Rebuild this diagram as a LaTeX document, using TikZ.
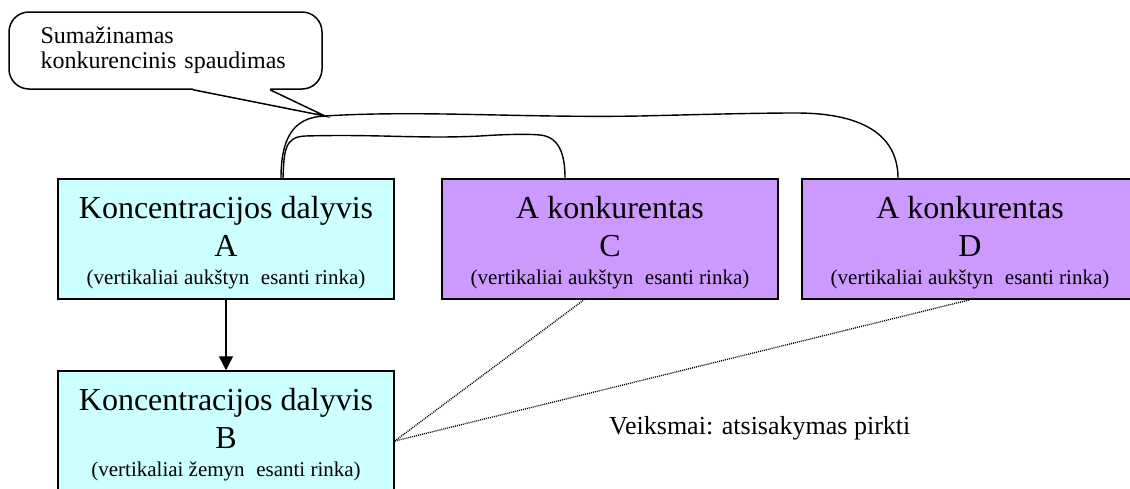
\documentclass[tikz,border=0pt]{standalone}
\usepackage{fontspec}
\setmainfont{Liberation Serif}
\usetikzlibrary{arrows.meta}
\definecolor{dalyviscyan}{HTML}{CCFFFF}
\definecolor{konkurviolet}{HTML}{CC99FF}
\newcommand\rinkafont{\fontsize{21}{24}\selectfont}
\newcommand\boxstrut{\rule{0pt}{29pt}}

\begin{document}
\begin{tikzpicture}[x=1pt, y=-1pt, >={Triangle[length=14pt,width=14pt]},
  box/.style={draw, line width=1.5pt, minimum width=336pt, minimum height=120pt,
    inner sep=0pt, align=center, font=\fontsize{32}{38}\selectfont},
  link/.style={line width=1.4pt},
  dotlink/.style={line width=1.3pt, dash pattern=on 1pt off 1pt}]
  \useasboundingbox (0,0) rectangle (1130,488);
  % callout
  \node[draw, line width=1.5pt, rounded corners=20pt, fill=white, minimum width=313pt,
    minimum height=77pt, text width=250pt, inner xsep=31.5pt, inner ysep=0pt, align=left,
    font=\fontsize{24}{25}\selectfont] (note) at (165.5,50.5)
    {Sumažinamas\\konkurencinis spaudimas};
  \coordinate (tip) at (325,116);
  \fill[white] ([xshift=27.5pt,yshift=2pt]note.south) -- ([xshift=104.5pt,yshift=2pt]note.south)
    -- ([xshift=104.5pt]note.south) -- (tip) -- ([xshift=27.5pt]note.south) -- cycle;
  \draw[line width=1.5pt] ([xshift=27.5pt]note.south) -- (tip) -- ([xshift=104.5pt]note.south);
  % boxes
  \node[box, fill=dalyviscyan] (A) at (226,239)
    {\boxstrut Koncentracijos dalyvis\\A\\[-10pt]{\rinkafont (vertikaliai aukštyn\hspace{0.3em} esanti rinka)}};
  \node[box, fill=dalyviscyan] (B) at (226,431)
    {\boxstrut Koncentracijos dalyvis\\B\\[-10pt]{\rinkafont (vertikaliai žemyn\hspace{0.3em} esanti rinka)}};
  \node[box, fill=konkurviolet] (C) at (610,239)
    {\boxstrut A konkurentas\\C\\[-10pt]{\rinkafont (vertikaliai aukštyn\hspace{0.3em} esanti rinka)}};
  \node[box, fill=konkurviolet] (D) at (970,239)
    {\boxstrut A konkurentas\\D\\[-10pt]{\rinkafont (vertikaliai aukštyn\hspace{0.3em} esanti rinka)}};
  \node[anchor=base west, inner sep=0pt, font=\fontsize{26}{30}\selectfont] (veiksmai)
    at (609,434) {Veiksmai: atsisakymas pirkti};
  % connectors
  \draw[->, line width=1.4pt] (A) -- (B);
  \draw[link] ([xshift=55pt]A.north) .. controls (281,140) and (292,117) .. (tip)
    .. controls (420,110) and (520,118) .. (640,116)
    .. controls (720,114) and (760,113) .. (796,113)
    .. controls (870,113) and (898,140) .. ([xshift=-72pt]D.north);
  \draw[link] ([xshift=57pt]A.north) .. controls (284,150) and (285,137) .. (305,136)
    .. controls (380,134) and (420,139) .. (480,136)
    .. controls (510,134) and (530,134) .. (540,135)
    .. controls (562,137) and (565,160) .. ([xshift=-45pt]C.north);
  \draw[dotlink] ([yshift=-10pt]B.east) -- ([xshift=-26pt]C.south);
  \draw[dotlink] ([yshift=-10pt]B.east) -- (D.south);
\end{tikzpicture}
\end{document}
